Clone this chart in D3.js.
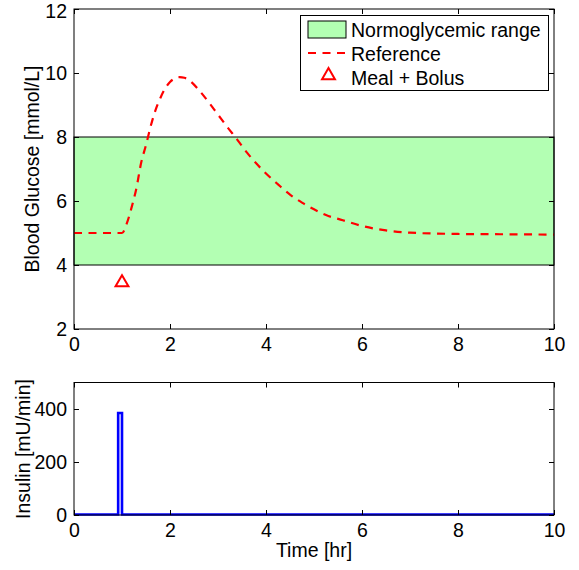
<!DOCTYPE html>
<html>
<head>
<meta charset="utf-8">
<script src="https://cdn.jsdelivr.net/npm/d3@7"></script>
<style>
body{margin:0;background:#fff}
svg text{font-family:"Liberation Sans",Arial,sans-serif}
.axis .domain{display:none}
.axis line{stroke:#000}
</style>
</head>
<body>
<div id="chart"></div>
<script>
// glucose reference curve (hr, mmol/L)
var glucoseTime = [0,0.5,1.0,1.1,1.2,1.3,1.4,1.5,1.6,1.7,1.8,1.9,2.0,2.1,2.2,2.3,2.4,2.6,2.8,3.0,3.2,3.4,3.6,3.8,4.0,4.25,4.5,4.75,5.0,5.25,5.6,6.0,6.5,7.0,8.0,9.0,10.0]
var glucoseValue = [5.0,5.0,5.0,5.3,5.8,6.4,7.2,7.75,8.35,8.85,9.22,9.52,9.72,9.83,9.87,9.85,9.77,9.47,9.1,8.7,8.3,7.92,7.52,7.17,6.86,6.52,6.2,5.95,5.74,5.56,5.4,5.22,5.08,5.01,4.97,4.96,4.95]
var normoRange = [4,8]
var mealTime = [1]
var mealMarker = [3.45]
// insulin (step after)
var insulinTime = [0,0.92,1.0,10]
var insulinValue = [2,385,2,2]
var xTicks = [0,2,4,6,8,10]
var gTicks = [2,4,6,8,10,12]
var iTicks = [0,200,400]

var fs = 19.5
var svg = d3.select("#chart").append("svg").attr("width",579).attr("height",570)
var left = 74, right = 554
var x = d3.scaleLinear().domain([0,10]).range([left,right])
var yG = d3.scaleLinear().domain([2,12]).range([329,9])
var yI = d3.scaleLinear().domain([0,500]).range([515,382.5])

function frame(y, yt, top, bottom){
    var ax = svg.append("g").attr("class","axis").attr("transform","translate(0,"+bottom+")")
        .call(d3.axisBottom(x).tickValues(xTicks).tickSize(-5).tickPadding(8).tickFormat(d3.format("d")))
    ax.selectAll("text").attr("font-size",fs).attr("fill","#000")
    svg.append("g").attr("class","axis").attr("transform","translate(0,"+top+")")
        .call(d3.axisTop(x).tickValues(xTicks).tickSize(-5).tickFormat(""))
    var ay = svg.append("g").attr("class","axis").attr("transform","translate("+left+",0)")
        .call(d3.axisLeft(y).tickValues(yt).tickSize(-5).tickPadding(7).tickFormat(d3.format("d")))
    ay.selectAll("text").attr("font-size",fs).attr("fill","#000")
        .attr("dy",function(d){return (y(d)<15) ? "0.45em" : "0.34em"})
    svg.append("g").attr("class","axis").attr("transform","translate("+right+",0)")
        .call(d3.axisRight(y).tickValues(yt).tickSize(-5).tickFormat(""))
    svg.append("rect").attr("x",left).attr("y",top).attr("width",right-left).attr("height",bottom-top)
        .attr("fill","none").attr("stroke","#000").attr("stroke-width",1)
}

// normoglycemic band
svg.append("rect").attr("x",x(0)).attr("y",yG(normoRange[1]))
    .attr("width",x(10)-x(0)).attr("height",yG(normoRange[0])-yG(normoRange[1]))
    .attr("fill","#b3ffb3").attr("stroke","#000").attr("stroke-width",1)

var gData = glucoseTime.map(function(t,i){return [t,glucoseValue[i]]})
var line = d3.line().x(function(d){return x(d[0])}).y(function(d){return yG(d[1])}).curve(d3.curveMonotoneX)
svg.append("path").datum(gData).attr("d",line)
    .attr("fill","none").attr("stroke","#ff0000").attr("stroke-width",2.2).attr("stroke-dasharray","8,6.5")

var tri = d3.symbol().type(d3.symbolTriangle).size(72)
svg.selectAll(".meal").data(mealTime).enter().append("path")
    .attr("class","meal").attr("d",tri)
    .attr("transform",function(d,i){return "translate("+x(d)+","+yG(mealMarker[i])+")"})
    .attr("fill","none").attr("stroke","#ff0000").attr("stroke-width",2)

frame(yG, gTicks, 9, 329)

svg.append("text").text("Blood Glucose [mmol/L]")
    .attr("transform","translate(39,169) rotate(-90)")
    .attr("text-anchor","middle").attr("font-size",fs)

// legend
var lg = svg.append("g")
lg.append("rect").attr("x",300.5).attr("y",15.5).attr("width",248).attr("height",75)
    .attr("fill","#fff").attr("stroke","#000").attr("stroke-width",1)
lg.append("rect").attr("x",308).attr("y",21).attr("width",38).attr("height",17)
    .attr("fill","#b3ffb3").attr("stroke","#000").attr("stroke-width",1)
lg.append("line").attr("x1",308).attr("x2",346).attr("y1",53).attr("y2",53)
    .attr("stroke","#ff0000").attr("stroke-width",2.2).attr("stroke-dasharray","8,6.5")
lg.append("path").attr("d",tri).attr("transform","translate(328.5,75.5)")
    .attr("fill","none").attr("stroke","#ff0000").attr("stroke-width",2)
var labels = ["Normoglycemic range","Reference","Meal + Bolus"]
lg.selectAll(".lt").data(labels).enter().append("text")
    .text(function(d){return d})
    .attr("x",351).attr("y",function(d,i){return 36.5+i*24})
    .attr("font-size",fs)

// insulin
var iData = insulinTime.map(function(t,i){return [t,insulinValue[i]]})
var iline = d3.line().x(function(d){return x(d[0])}).y(function(d){return yI(d[1])}).curve(d3.curveStepAfter)
svg.append("path").datum(iData).attr("d",iline)
    .attr("fill","none").attr("stroke","#0000ff").attr("stroke-width",2.6)

frame(yI, iTicks, 382.5, 515)

svg.append("text").text("Insulin [mU/min]")
    .attr("transform","translate(30,449) rotate(-90)")
    .attr("text-anchor","middle").attr("font-size",fs)
svg.append("text").text("Time [hr]").attr("x",314).attr("y",557)
    .attr("text-anchor","middle").attr("font-size",fs)
</script>
</body>
</html>
